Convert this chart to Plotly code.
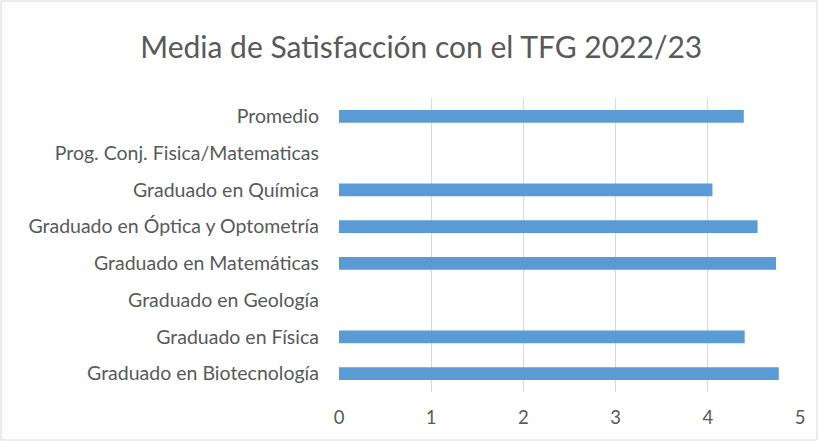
import plotly.graph_objs as go

# data
categorias = [
    'Graduado en Biotecnología',
    'Graduado en Física',
    'Graduado en Geología',
    'Graduado en Matemáticas',
    'Graduado en Óptica y Optometría',
    'Graduado en Química',
    'Prog. Conj. Fisica/Matematicas',
    'Promedio',
]
satisfaccion = [4.77, 4.40, None, 4.74, 4.54, 4.05, None, 4.39]
ticks_x = [0, 1, 2, 3, 4, 5]

W, H = 818, 441
ml, mr, mt, mb = 339, 18, 98, 49
pw, ph = W - ml - mr, H - mt - mb

fig = go.Figure()
fig.add_trace(go.Bar(
    y=categorias, x=satisfaccion, orientation='h',
    marker=dict(color='#5B9BD5', line=dict(width=0)),
))

fig.update_layout(
    width=W, height=H,
    margin=dict(l=ml, r=mr, t=mt, b=mb),
    paper_bgcolor='white', plot_bgcolor='white',
    font=dict(family='Lato, Open Sans, sans-serif', color='#595959', size=19.5),
    title=dict(text='Media de Satisfacción con el TFG 2022/23',
               x=0.515, xanchor='center', y=0.893, yanchor='middle',
               font=dict(size=30, color='#595959')),
    bargap=0.65,
    showlegend=False,
)
fig.update_xaxes(range=[0, 5], tickvals=ticks_x, showgrid=True, gridcolor='#D9D9D9',
                 gridwidth=1, zeroline=False, showline=False, ticklabelstandoff=12,
                 tickfont=dict(size=18.5))
fig.update_yaxes(categoryorder='array', categoryarray=categorias, showgrid=False,
                 zeroline=False, showline=False, ticklabelstandoff=19)

# chart border
fig.add_shape(type='rect', xref='paper', yref='paper',
              x0=-(ml - 1) / pw, x1=1 + (mr - 1) / pw,
              y0=-(mb - 1) / ph, y1=1 + (mt - 1) / ph,
              line=dict(color='#D9D9D9', width=1), layer='below')

fig.write_html('out.html', config={'displayModeBar': False},
               post_script="document.body.style.margin='0';")
